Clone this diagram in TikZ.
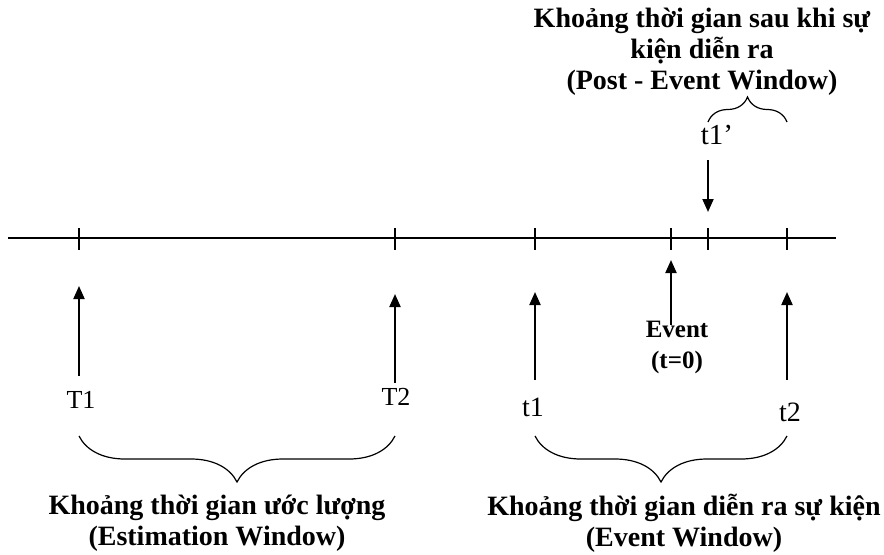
\documentclass[tikz,border=0pt]{standalone}
\usepackage{fontspec}
\setmainfont{Liberation Serif}
\usetikzlibrary{arrows.meta, decorations.pathreplacing}

\begin{document}
\begin{tikzpicture}[x=0.5pt, y=0.5pt, every node/.style={align=center, inner sep=0pt},
  lbl/.style={font=\fontsize{14}{16}\selectfont},
  ttl/.style={font=\fontsize{14}{15.5}\selectfont\bfseries},
  uparr/.style={line width=1pt, -{Triangle[length=6.5pt, width=5.5pt]}},
  brc/.style={decorate, line width=0.6pt, decoration={brace, amplitude=#1}}]
\useasboundingbox (0,0) rectangle (884,554);
% time axis and ticks
\draw[line width=0.7pt] (8,316) -- (836,316);
\foreach \n/\x in {T1/79, T2/395, t1/535, ev/671, tp/708, t2/787} {
  \coordinate (tick\n) at (\x,316);
  \draw[line width=0.7pt] ([yshift=5pt]tick\n) -- ([yshift=-6pt]tick\n);
}
% labels under / over the axis
\node[lbl, font=\fontsize{13}{16}\selectfont] (T1) at (81,154) {T1};
\node[lbl, font=\fontsize{13}{16}\selectfont] (T2) at (396,157) {T2};
\node[lbl] (t1) at (533,147) {t1};
\node[lbl] (t2) at (790,142) {t2};
\node[lbl, font=\fontsize{14.5}{16}\selectfont] (tp) at (717,419) {t1’};
\node[ttl, font=\fontsize{12.5}{15.5}\selectfont\bfseries] (ev) at (677,207) {Event\\(t=0)};
% arrows
\draw[uparr] ([xshift=-1pt, yshift=12pt]T1.center) -- ([yshift=-24pt]tickT1);
\draw[uparr] ([xshift=-0.5pt, yshift=7pt]T2.center) -- ([yshift=-28pt]tickT2);
\draw[uparr] ([xshift=1pt, yshift=13.5pt]t1.center) -- ([yshift=-27pt]tickt1);
\draw[uparr] ([xshift=-1.5pt, yshift=16pt]t2.center) -- ([yshift=-27pt]tickt2);
\draw[uparr] ([xshift=-3pt, yshift=11pt]ev.center) -- ([yshift=-11pt]tickev);
\draw[uparr] ([xshift=-4.5pt, yshift=-12.5pt]tp.center) -- ([yshift=13pt]ticktp);
% windows
\coordinate (estL) at (79,118);
\coordinate (estR) at (395,118);
\coordinate (evL) at (535,118);
\coordinate (evR) at (787,118);
\coordinate (postL) at (708,432);
\coordinate (postR) at (787,432);
\draw[brc=23pt, decoration={mirror}] (estL) -- (estR);
\draw[brc=23pt, decoration={mirror}] (evL) -- (evR);
\draw[brc=12.5pt] (postL) -- (postR);
\node[ttl] (est) at (217,31) {Khoảng thời gian ước lượng\\(Estimation Window)};
\node[ttl] (evw) at (684,31) {Khoảng thời gian diễn ra sự kiện\\(Event Window)};
\node[ttl] (post) at (702,502) {Khoảng thời gian sau khi sự\\kiện diễn ra\\(Post - Event Window)};
\end{tikzpicture}
\end{document}
